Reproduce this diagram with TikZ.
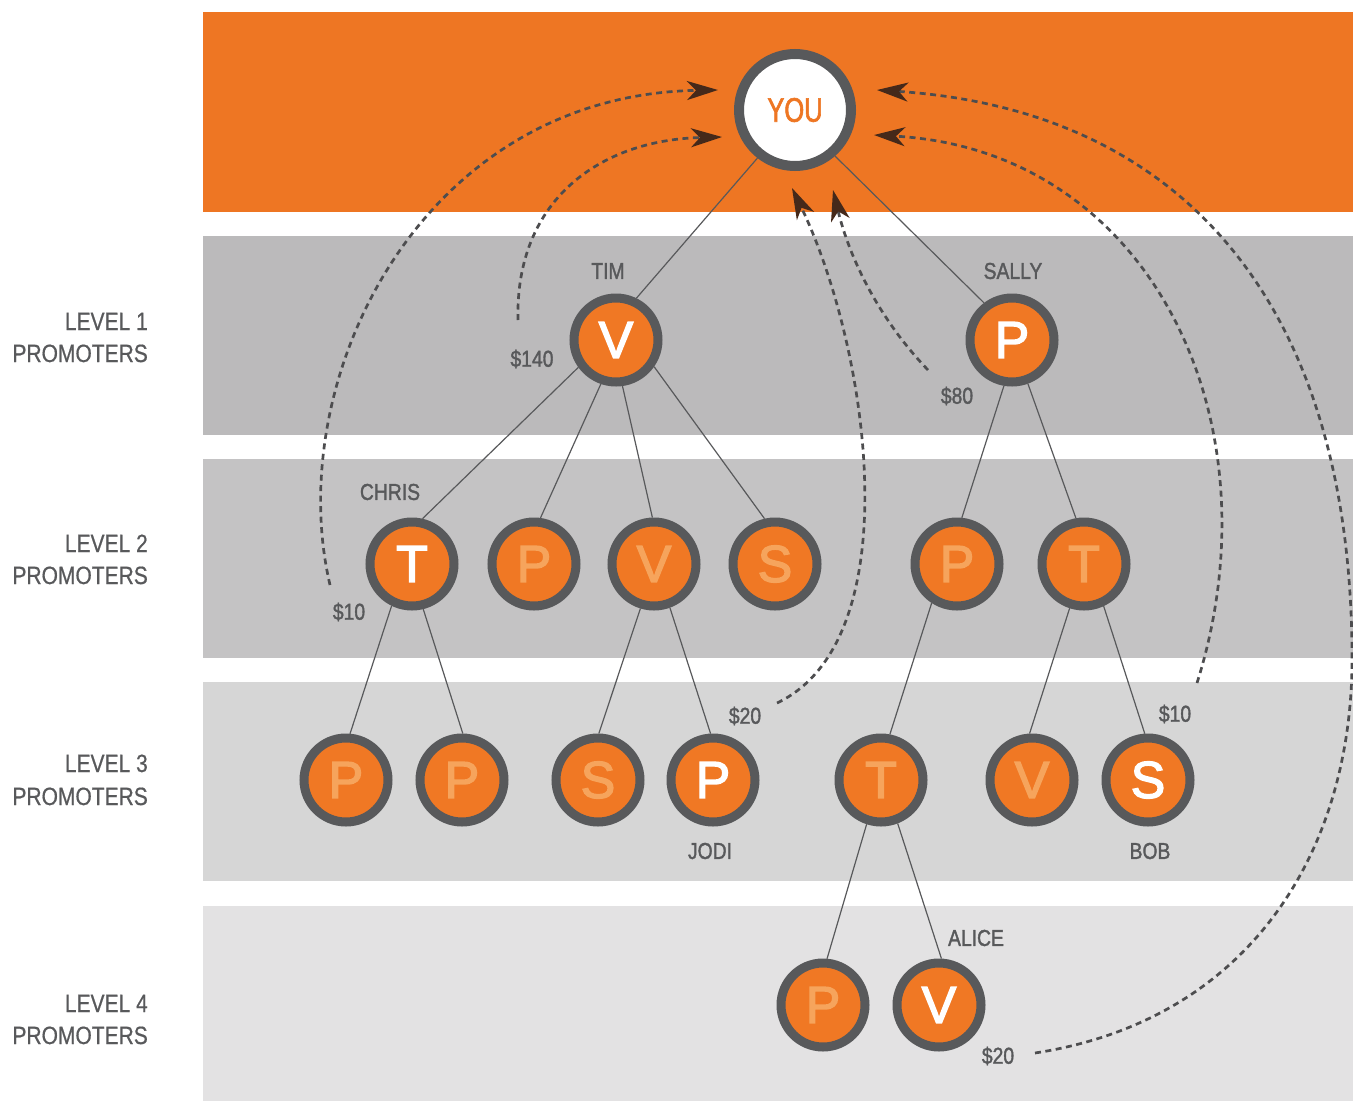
\documentclass[tikz,border=0pt]{standalone}
\usepackage{fontspec}
\setmainfont{Liberation Sans}
\newfontfamily\condf[FakeStretch=0.84,FakeBold=1.5]{Liberation Sans}
\newfontfamily\lvlf[FakeStretch=0.84,FakeBold=0.6]{Liberation Sans}
\newfontfamily\youf[FakeStretch=0.75,FakeBold=1.8]{Liberation Sans}
\newfontfamily\letf[FakeBold=2.6]{Liberation Sans}
\usetikzlibrary{arrows.meta}
\definecolor{org}{HTML}{EE7623}
\definecolor{corg}{HTML}{F07824}
\definecolor{ring}{HTML}{58595B}
\definecolor{fade}{HTML}{F6A45C}
\definecolor{bandA}{HTML}{BBBABB}
\definecolor{bandB}{HTML}{C4C3C4}
\definecolor{bandC}{HTML}{D6D6D6}
\definecolor{bandD}{HTML}{E3E2E3}
\definecolor{dash}{HTML}{4D4D4F}
\definecolor{tipc}{HTML}{45291A}
\tikzset{
  pnode/.style={circle, draw=ring, line width=9pt, fill=corg, minimum size=84pt, inner sep=0pt, font=\letf\fontsize{52}{52}\selectfont},
  hi/.style={pnode, text=white},
  lo/.style={pnode, text=fade},
  youbox/.style={circle, draw=ring, line width=10pt, fill=white, minimum size=112pt, inner sep=0pt, text=org, font=\youf\fontsize{34}{34}\selectfont},
  edge/.style={draw=ring, line width=1.2pt},
  lbl/.style={inner sep=0pt, text=ring, font=\condf\fontsize{23}{23}\selectfont},
  lvl/.style={inner sep=0pt, anchor=base east, text=ring, font=\lvlf\fontsize{25}{25}\selectfont},
  flow/.style={draw=dash, line width=2.7pt, dash pattern=on 6pt off 4.5pt, -{Stealth[length=31pt, width=19pt, inset=9pt, color=tipc, fill=tipc]}}
}
\begin{document}
\begin{tikzpicture}[x=1pt,y=-1pt]
\useasboundingbox (0,0) rectangle (1353,1101);
\fill[white] (0,0) rectangle (1353,1101);
% bands
\fill[org] (203,12) rectangle (1353,212);
\fill[bandA] (203,236) rectangle (1353,435);
\fill[bandB] (203,459) rectangle (1353,658);
\fill[bandC] (203,682) rectangle (1353,881);
\fill[bandD] (203,906) rectangle (1353,1101);
% level labels
\node[lvl] (l1a) at (148,330) {LEVEL 1};
\node[lvl] (l1b) at (148,362) {PROMOTERS};
\node[lvl] (l2a) at (148,552) {LEVEL 2};
\node[lvl] (l2b) at (148,584) {PROMOTERS};
\node[lvl] (l3a) at (148,772) {LEVEL 3};
\node[lvl] (l3b) at (148,805) {PROMOTERS};
\node[lvl] (l4a) at (148,1012) {LEVEL 4};
\node[lvl] (l4b) at (148,1044) {PROMOTERS};
% nodes
\node[youbox] (you) at (795,110) {YOU};
\node[hi] (tim) at (616,340) {V};
\node[hi] (sally) at (1012,340) {P};
\node[hi] (chris) at (412,564) {T};
\node[lo] (b2) at (534,564) {P};
\node[lo] (b3) at (654,564) {V};
\node[lo] (b4) at (775,564) {S};
\node[lo] (b5) at (957,564) {P};
\node[lo] (b6) at (1084,564) {T};
\node[lo] (c1) at (346,780) {P};
\node[lo] (c2) at (462,780) {P};
\node[lo] (c3) at (598,780) {S};
\node[hi] (jodi) at (713,780) {P};
\node[lo] (c5) at (881,780) {T};
\node[lo] (c6) at (1032,780) {V};
\node[hi] (bob) at (1148,780) {S};
\node[lo] (d1) at (823,1005) {P};
\node[hi] (alice) at (939,1005) {V};
% edges
\draw[edge] (you.232) -- (tim.64);
\draw[edge] (you.311) -- (sally.127);
\draw[edge] (tim.216) -- (chris.77);
\draw[edge] (tim.251) -- (b2.82);
\draw[edge] (tim.278) -- (b3.92);
\draw[edge] (tim.325) -- (b4.103);
\draw[edge] (sally.260) -- (b5.84);
\draw[edge] (sally.290) -- (b6.100);
\draw[edge] (chris.244) -- (c1.85);
\draw[edge] (chris.284) -- (c2.89);
\draw[edge] (b3.253) -- (c3.89);
\draw[edge] (b3.290) -- (jodi.93);
\draw[edge] (b5.237) -- (c5.79);
\draw[edge] (b6.252) -- (c6.93);
\draw[edge] (b6.295) -- (bob.94);
\draw[edge] (c5.252) -- (d1.85);
\draw[edge] (c5.291) -- (alice.87);
% name and amount labels
\node[lbl] (ntim) at (608,271) {TIM};
\node[lbl] (nsally) at (1013,271) {SALLY};
\node[lbl] (nchris) at (390,492) {CHRIS};
\node[lbl] (njodi) at (710,851) {JODI};
\node[lbl] (nbob) at (1150,851) {BOB};
\node[lbl] (nalice) at (976,938) {ALICE};
\node[lbl] (m140) at (532,359) {\$140};
\node[lbl] (m80) at (957,396) {\$80};
\node[lbl] (m10a) at (349,612) {\$10};
\node[lbl] (m20a) at (745,716) {\$20};
\node[lbl] (m10b) at (1175,714) {\$10};
\node[lbl] (m20b) at (998,1056) {\$20};
% flow coordinates
\coordinate (s1) at (330,585);
\coordinate (e1) at (718,90);
\coordinate (s2) at (518,320);
\coordinate (e2) at (722,137);
\coordinate (s3) at (777,703);
\coordinate (e3) at (792,188);
\coordinate (s4) at (928,370);
\coordinate (e4) at (833,190);
\coordinate (s5) at (1197,683);
\coordinate (e5) at (874,135);
\coordinate (s6) at (1035,1053);
\coordinate (e6) at (877,90);
% flows
\draw[flow] (s1) .. controls (282,380) and (420,95) .. (e1);
\draw[flow] (s2) .. controls (515,200) and (600,140) .. (e2);
\draw[flow] (s3) .. controls (910,640) and (870,350) .. (e3);
\draw[flow] (s4) .. controls (880,320) and (850,260) .. (e4);
\draw[flow] (s5) .. controls (1280,420) and (1150,150) .. (e5);
\draw[flow] (s6) .. controls (1250,1020) and (1355,850) .. (1352,650)
   .. controls (1349,300) and (1180,110) .. (e6);
\end{tikzpicture}
\end{document}
